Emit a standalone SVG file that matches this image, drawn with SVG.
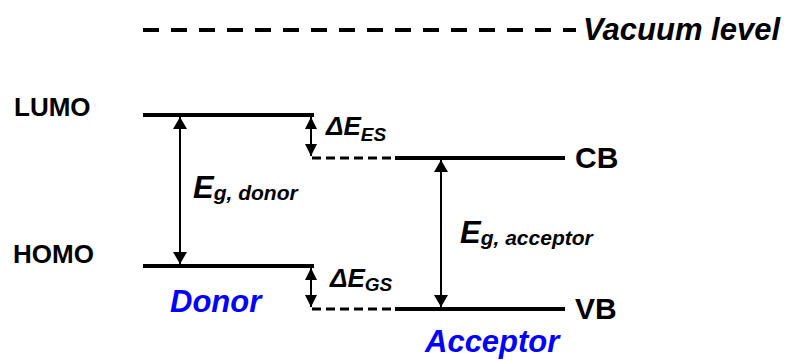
<svg xmlns="http://www.w3.org/2000/svg" width="788" height="360" viewBox="0 0 788 360">
<style>
text{font-family:"Liberation Sans",Arial,sans-serif;font-weight:bold;fill:#000}
.it{font-style:italic}
.blue{fill:#0000ff}
.lvl{stroke:#000;stroke-width:4;fill:none}
.dash{stroke:#000;stroke-width:3;stroke-dasharray:9 5;fill:none}
.arr{stroke:#000;stroke-width:2;fill:none}
</style>
<defs>
<marker id="ah" viewBox="0 0 12 14" refX="12" refY="7" markerWidth="12" markerHeight="14" markerUnits="userSpaceOnUse" orient="auto-start-reverse">
<path d="M0,0L12,7L0,14z" fill="#000"/>
</marker>
<marker id="ahs" viewBox="0 0 12 12" refX="12" refY="6" markerWidth="12" markerHeight="12" markerUnits="userSpaceOnUse" orient="auto-start-reverse">
<path d="M0,0L12,6L0,12z" fill="#000"/>
</marker>
</defs>
<g id="vacuum">
<line x1="143" y1="30" x2="576" y2="30" stroke="#000" stroke-width="4" stroke-dasharray="16 12"/>
<text class="it" x="583" y="40" font-size="31">Vacuum level</text>
</g>
<g id="donor-lumo">
<text x="14" y="116" font-size="26">LUMO</text>
<line class="lvl" x1="143" y1="115" x2="314" y2="115"/>
</g>
<g id="donor-homo">
<text x="13" y="263" font-size="26">HOMO</text>
<line class="lvl" x1="143" y1="266" x2="314" y2="266"/>
</g>
<g id="acceptor-cb">
<line class="lvl" x1="395" y1="158" x2="565" y2="158"/>
<text x="575" y="168" font-size="30">CB</text>
</g>
<g id="acceptor-vb">
<line class="lvl" x1="395" y1="309" x2="565" y2="309"/>
<text x="575" y="319" font-size="30">VB</text>
</g>
<g id="labels">
<text class="it blue" x="170" y="312" font-size="31">Donor</text>
<text class="it blue" x="425" y="352" font-size="31">Acceptor</text>
<text class="it" x="193" y="198" font-size="31">E<tspan font-size="21" dy="2">g, donor</tspan></text>
<text class="it" x="460" y="243" font-size="31">E<tspan font-size="21" dy="2">g, acceptor</tspan></text>
<text class="it" x="326" y="135" font-size="26">ΔE<tspan font-size="19" dy="6">ES</tspan></text>
<text class="it" x="330" y="287" font-size="26">ΔE<tspan font-size="19" dy="4">GS</tspan></text>
</g>
<g id="connectors">
<line class="dash" x1="312" y1="158" x2="393" y2="158"/>
<line class="dash" x1="312" y1="309" x2="393" y2="309"/>
<line class="arr" x1="180" y1="117" x2="180" y2="264" marker-start="url(#ah)" marker-end="url(#ah)"/>
<line class="arr" x1="441" y1="160" x2="441" y2="307" marker-start="url(#ah)" marker-end="url(#ah)"/>
<line class="arr" x1="311" y1="117" x2="311" y2="156" marker-start="url(#ahs)" marker-end="url(#ahs)"/>
<line class="arr" x1="311" y1="268" x2="311" y2="307" marker-start="url(#ahs)" marker-end="url(#ahs)"/>
</g>
</svg>
